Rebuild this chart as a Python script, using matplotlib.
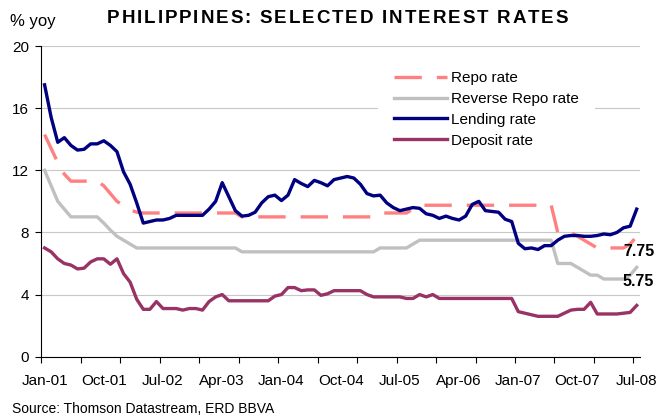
import matplotlib
matplotlib.use('Agg')
import matplotlib.pyplot as plt

plt.rcParams['font.family'] = ['Liberation Sans', 'DejaVu Sans']

# monthly data, Jan-01 .. Jul-08 (91 months)
repo_rate = [
    14.3, 13.4, 12.5, 11.75, 11.3, 11.3, 11.3, 11.3, 11.3, 11.0,
    10.5, 10.0, 9.75, 9.45, 9.3, 9.25, 9.25, 9.25, 9.25, 9.25,
    9.25, 9.25, 9.25, 9.25, 9.25, 9.25, 9.25, 9.25, 9.25, 9.25,
    9.0, 9.0, 9.0, 9.0, 9.0, 9.0, 9.0, 9.0, 9.0, 9.0,
    9.0, 9.0, 9.0, 9.0, 9.0, 9.0, 9.0, 9.0, 9.0, 9.0,
    9.0, 9.25, 9.25, 9.25, 9.25, 9.25, 9.5, 9.75, 9.75, 9.75,
    9.75, 9.75, 9.75, 9.75, 9.75, 9.75, 9.75, 9.75, 9.75, 9.75,
    9.75, 9.75, 9.75, 9.75, 9.75, 9.75, 9.75, 9.75, 8.0, 8.0,
    8.0, 7.75, 7.5, 7.25, 7.0, 7.0, 7.0, 7.0, 7.0, 7.25,
    7.75,
]
reverse_repo_rate = [
    12.0, 11.0, 10.0, 9.5, 9.0, 9.0, 9.0, 9.0, 9.0, 8.6,
    8.15, 7.75, 7.5, 7.25, 7.0, 7.0, 7.0, 7.0, 7.0, 7.0,
    7.0, 7.0, 7.0, 7.0, 7.0, 7.0, 7.0, 7.0, 7.0, 7.0,
    6.75, 6.75, 6.75, 6.75, 6.75, 6.75, 6.75, 6.75, 6.75, 6.75,
    6.75, 6.75, 6.75, 6.75, 6.75, 6.75, 6.75, 6.75, 6.75, 6.75,
    6.75, 7.0, 7.0, 7.0, 7.0, 7.0, 7.25, 7.5, 7.5, 7.5,
    7.5, 7.5, 7.5, 7.5, 7.5, 7.5, 7.5, 7.5, 7.5, 7.5,
    7.5, 7.5, 7.5, 7.5, 7.5, 7.5, 7.5, 7.5, 6.0, 6.0,
    6.0, 5.75, 5.5, 5.25, 5.25, 5.0, 5.0, 5.0, 5.0, 5.25,
    5.75,
]
lending_rate = [
    17.5, 15.4, 13.8, 14.1, 13.6, 13.3, 13.35, 13.7, 13.7, 13.9,
    13.6, 13.2, 11.9, 11.1, 9.9, 8.6, 8.7, 8.8, 8.8, 8.9,
    9.1, 9.1, 9.1, 9.1, 9.1, 9.5, 10.0, 11.2, 10.3, 9.4,
    9.05, 9.1, 9.3, 9.9, 10.3, 10.4, 10.05, 10.4, 11.4, 11.15,
    10.95, 11.35, 11.2, 11.0, 11.4, 11.5, 11.6, 11.5, 11.1, 10.5,
    10.35, 10.4, 9.9, 9.6, 9.4, 9.5, 9.6, 9.55, 9.2, 9.1,
    8.9, 9.05, 8.9, 8.8, 9.05, 9.8, 10.0, 9.4, 9.35, 9.3,
    8.85, 8.7, 7.3, 6.95, 7.0, 6.9, 7.15, 7.15, 7.5, 7.75,
    7.8, 7.8, 7.75, 7.75, 7.8, 7.9, 7.85, 8.0, 8.3, 8.4,
    9.5,
]
deposit_rate = [
    7.0, 6.75, 6.3, 6.0, 5.9, 5.65, 5.7, 6.1, 6.3, 6.3,
    5.95, 6.3, 5.35, 4.8, 3.7, 3.05, 3.05, 3.55, 3.1, 3.1,
    3.1, 3.0, 3.1, 3.1, 3.0, 3.55, 3.85, 4.0, 3.6, 3.6,
    3.6, 3.6, 3.6, 3.6, 3.6, 3.9, 4.0, 4.45, 4.45, 4.25,
    4.3, 4.3, 3.95, 4.05, 4.25, 4.25, 4.25, 4.25, 4.25, 4.0,
    3.85, 3.85, 3.85, 3.85, 3.85, 3.75, 3.75, 4.0, 3.85, 4.0,
    3.75, 3.75, 3.75, 3.75, 3.75, 3.75, 3.75, 3.75, 3.75, 3.75,
    3.75, 3.75, 2.9, 2.8, 2.7, 2.6, 2.6, 2.6, 2.6, 2.8,
    3.0, 3.05, 3.05, 3.5, 2.75, 2.75, 2.75, 2.75, 2.8, 2.85,
    3.3,
]
tick_labels = ['Jan-01', 'Oct-01', 'Jul-02', 'Apr-03', 'Jan-04', 'Oct-04',
               'Jul-05', 'Apr-06', 'Jan-07', 'Oct-07', 'Jul-08']
end_labels = ['7.75', '5.75']

W, H = 660, 415


def spaced_text(fig, s, left, baseline, width, **kw):
    # draw a string letter by letter, spread out to a given pixel width
    r = fig.canvas.get_renderer()
    space = kw['fontsize'] * 100 / 72 * 0.28
    widths = []
    for ch in s:
        if ch == ' ':
            widths.append(space)
            continue
        t = fig.text(0, 0, ch, **kw)
        widths.append(t.get_window_extent(r).width)
        t.remove()
    gap = (width - sum(widths)) / (len(s) - 1)
    x = left
    for ch, w in zip(s, widths):
        if ch != ' ':
            fig.text(x / W, 1 - baseline / H, ch, va='baseline', **kw)
        x += w + gap


fig = plt.figure(figsize=(W / 100, H / 100), dpi=100)
ax = fig.add_axes([41.3 / W, 58.3 / H, 598.7 / W, 310.7 / H])

x = range(len(lending_rate))
repo_line, = ax.plot(x, repo_rate, color='#FF8080', lw=2.4, label='Repo rate')
repo_line.set_dashes([8.2, 4.5])
ax.plot(x, reverse_repo_rate, color='#C0C0C0', lw=2.4, label='Reverse Repo rate')
ax.plot(x, lending_rate, color='#000080', lw=2.4, label='Lending rate')
ax.plot(x, deposit_rate, color='#993366', lw=2.4, label='Deposit rate')

ax.set_xlim(-0.5, 90.5)
ax.set_ylim(0, 20)
ax.set_yticks([0, 4, 8, 12, 16, 20])
ax.set_xticks(range(0, 91, 9))
ax.set_xticklabels(tick_labels)
ax.set_xticks([k - 0.5 for k in range(0, 91, 6)], minor=True)
ax.tick_params(axis='x', which='major', length=0, pad=12.5, labelsize=11)
ax.tick_params(axis='x', which='minor', length=4.3, width=0.8)
ax.tick_params(axis='y', length=4, width=0.8, pad=5, labelsize=11)
ax.grid(axis='y', color='#C8C8C8', lw=0.8)
ax.set_axisbelow(True)
for s in ['top', 'right']:
    ax.spines[s].set_visible(False)
for s in ['left', 'bottom']:
    ax.spines[s].set_linewidth(0.8)

ax.legend(loc='upper left', bbox_to_anchor=(378 / W, 1 - 55 / H),
          bbox_transform=fig.transFigure, frameon=True, fancybox=False,
          edgecolor='none', facecolor='white', framealpha=1, fontsize=11,
          handlelength=3.45, handletextpad=0.28, labelspacing=0.45,
          borderpad=1.05, borderaxespad=0)

ax.text(87.9, 6.76, end_labels[0], fontsize=11.5, fontweight='bold', va='center')
ax.text(87.9, 4.83, end_labels[1], fontsize=11.5, fontweight='bold', va='center')

spaced_text(fig, 'PHILIPPINES: SELECTED INTEREST RATES', 107, 22.7, 461,
            fontsize=13.5, fontweight='bold')
fig.text(10 / W, 1 - 25.7 / H, '% yoy', fontsize=12, va='baseline')
fig.text(12 / W, 1 - 412.5 / H, 'Source: Thomson Datastream, ERD BBVA',
         fontsize=10, va='baseline')

fig.savefig('out.png', dpi=100)
